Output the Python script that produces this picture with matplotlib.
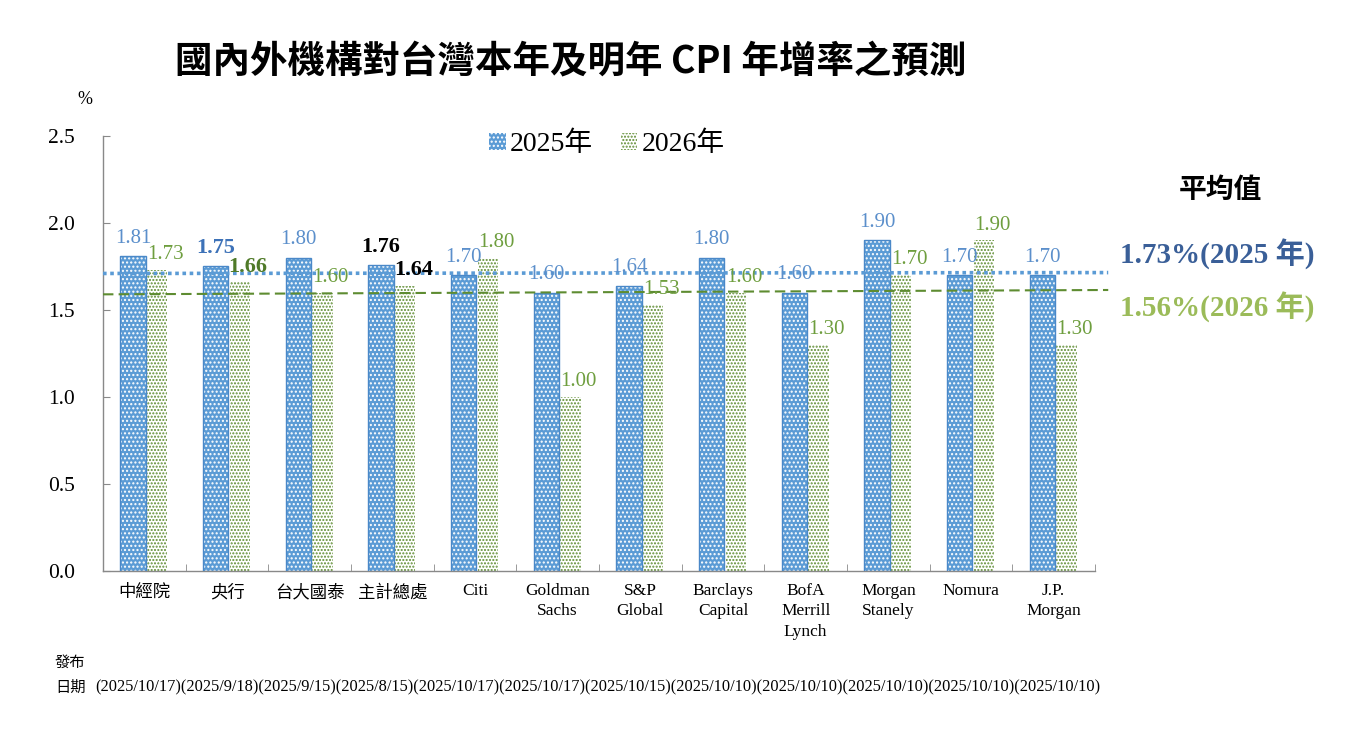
import matplotlib
matplotlib.use("Agg")
import matplotlib.pyplot as plt
import numpy as np

# ---------------- data ----------------
categories = ["中經院", "央行", "台大國泰", "主計總處", "Citi", "Goldman\nSachs",
              "S&P\nGlobal", "Barclays\nCapital", "BofA\nMerrill\nLynch",
              "Morgan\nStanely", "Nomura", "J.P.\nMorgan"]
cpi_2025 = [1.81, 1.75, 1.80, 1.76, 1.70, 1.60, 1.64, 1.80, 1.60, 1.90, 1.70, 1.70]
cpi_2026 = [1.73, 1.66, 1.60, 1.64, 1.80, 1.00, 1.53, 1.60, 1.30, 1.70, 1.90, 1.30]
dates = ["(2025/10/17)", "(2025/9/18)", "(2025/9/15)", "(2025/8/15)", "(2025/10/17)",
         "(2025/10/17)", "(2025/10/15)", "(2025/10/10)", "(2025/10/10)", "(2025/10/10)",
         "(2025/10/10)", "(2025/10/10)"]
avg_2025_line = [1.71, 1.715]   # trend-line ends as drawn
avg_2026_line = [1.59, 1.615]
avg_2025_text = "1.73%(2025 年)"
avg_2026_text = "1.56%(2026 年)"
yticks = [0.0, 0.5, 1.0, 1.5, 2.0, 2.5]
series_names = ["2025年", "2026年"]

SERIF = ["Liberation Serif", "Noto Sans CJK TC", "DejaVu Sans"]
CJK = ["Noto Sans CJK TC", "Liberation Serif", "DejaVu Sans"]
plt.rcParams["font.family"] = SERIF
plt.rcParams["hatch.linewidth"] = 1.0

BLUE = "#5B9BD5"
BLUE_EDGE = "#4A88C8"
GREEN = "#5E8C31"
LBL_BLUE = "#5B8FCB"
LBL_GREEN = "#6E9E3E"

fig = plt.figure(figsize=(13.66, 7.46), dpi=100)
ax = fig.add_axes([103/1366, 1-571/746, (1095-103)/1366, (571-136)/746])

x = np.arange(len(categories))
wb, wg = 0.31, 0.245
xb = x - 0.137
xg = x + 0.155

ax.bar(xb, cpi_2025, width=wb, facecolor=BLUE, edgecolor="white",
       hatch="....", linewidth=0, label=series_names[0], zorder=2)
ax.bar(xb, cpi_2025, width=wb, fill=False, edgecolor=BLUE_EDGE, linewidth=1.0, zorder=3)
ax.bar(xg, cpi_2026, width=wg, facecolor="white", edgecolor=GREEN,
       hatch=".....", linewidth=0, label=series_names[1], zorder=2)

ax.set_xlim(-0.5, len(categories) - 0.5)
ax.set_ylim(0, 2.5)
ax.set_yticks(yticks)
ax.set_yticklabels([f"{v:.1f}" for v in yticks], fontsize=15.5, family=SERIF)
ax.set_xticks(x)
ax.set_xticklabels([])
ax.set_xticks(np.arange(len(categories) + 1) - 0.5, minor=True)
ax.tick_params(axis="x", which="major", length=0)
ax.tick_params(axis="x", which="minor", direction="in", length=5, color="#898989")
ax.tick_params(axis="y", direction="in", length=5, color="#898989", pad=20)
for s in ["top", "right"]:
    ax.spines[s].set_visible(False)
for s in ["left", "bottom"]:
    ax.spines[s].set_color("#898989")
    ax.spines[s].set_linewidth(1.0)

# category labels
for xi, lab in zip(x, categories):
    fam = CJK if any(ord(c) > 0x2E80 for c in lab) else SERIF
    ax.text(xi, -0.07, lab, ha="center", va="top", fontsize=12.5, family=fam,
            linespacing=1.35)

# mean (trend) lines
ax.plot([-0.5, 11.66], avg_2025_line, linestyle=(0, (1, 1)), color=BLUE,
        linewidth=2.6, clip_on=False, zorder=4)
ax.plot([-0.5, 11.66], avg_2026_line, linestyle=(0, (5, 2.5)), color=GREEN,
        linewidth=1.5, clip_on=False, zorder=4)

# data labels
for i, (xv, v) in enumerate(zip(xb, cpi_2025)):
    if i == 1:
        kw = dict(color="#3D72B8", fontweight="bold", fontsize=16)
    elif i == 3:
        kw = dict(color="black", fontweight="bold", fontsize=16)
    else:
        kw = dict(color=LBL_BLUE, fontsize=15)
    ax.annotate(f"{v:.2f}", (xv, v), xytext=(0, 13), textcoords="offset points",
                ha="center", va="center", family=SERIF, zorder=5, **kw)
for i, (xv, v) in enumerate(zip(xg, cpi_2026)):
    if i == 1:
        kw = dict(color="#4F7A28", fontweight="bold", fontsize=16)
    elif i == 3:
        kw = dict(color="black", fontweight="bold", fontsize=16)
    else:
        kw = dict(color=LBL_GREEN, fontsize=15)
    ax.annotate(f"{v:.2f}", (xv, v), xytext=(6, 11), textcoords="offset points",
                ha="center", va="center", family=SERIF, zorder=5, **kw)

# legend
ax.legend(loc="center", bbox_to_anchor=(0.508, 0.981), ncol=2, frameon=False,
          prop={"family": SERIF, "size": 20}, handlelength=0.6, handleheight=0.55,
          columnspacing=1.0, handletextpad=0.15)

# title
fig.text(0.418, 0.917, "國內外機構對台灣本年及明年 CPI 年增率之預測", ha="center",
         va="center", fontsize=27, fontweight="heavy", family=CJK)
fig.text(85/1366, 1-100/746, "%", ha="center", va="center", fontsize=13, family=SERIF)

# right-hand averages
fig.text(1220/1366, 1-190/746, "平均值", ha="center", va="center", fontsize=20,
         fontweight="heavy", family=CJK)
fig.text(1120/1366, 1-254/746, avg_2025_text, ha="left", va="center", fontsize=21,
         fontweight="bold", color="#3A5F98", family=SERIF)
fig.text(1120/1366, 1-307/746, avg_2026_text, ha="left", va="center", fontsize=21,
         fontweight="bold", color="#9BBB59", family=SERIF)

# release dates
fig.text(55/1366, 1-662/746, "發布", ha="left", va="center", fontsize=11, family=CJK)
fig.text(55/1366, 1-687/746, "日期", ha="left", va="center", fontsize=11, family=CJK)
fig.text(95/1366, 1-687/746, "".join(dates), ha="left", va="center", fontsize=11.8,
         family=SERIF)

fig.savefig("out.png", dpi=100)
